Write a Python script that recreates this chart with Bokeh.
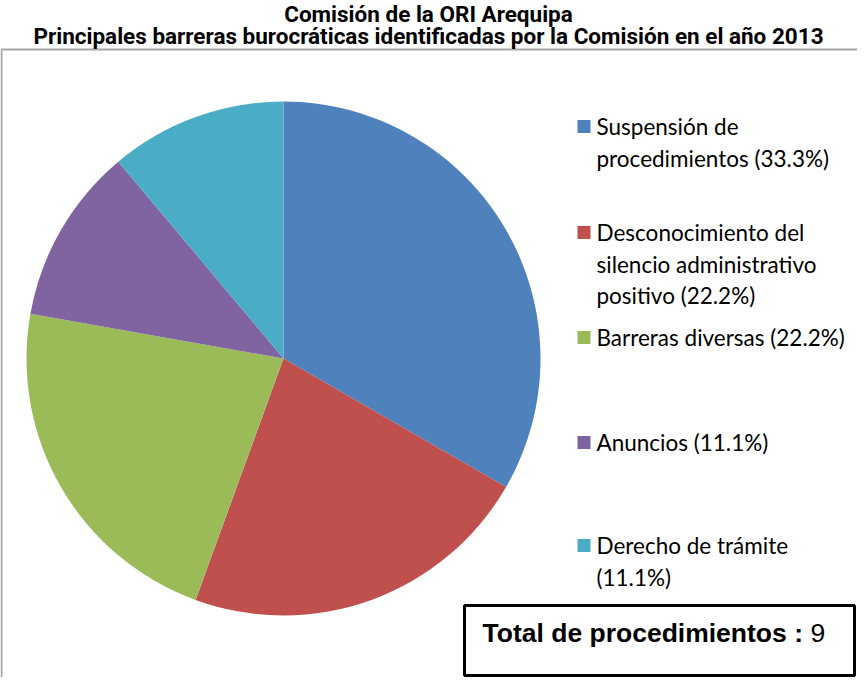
import math
from bokeh.plotting import figure
from bokeh.models import Range1d
from bokeh.core.properties import value
from bokeh.embed import file_html
from bokeh.resources import INLINE

# ---- data ----
categories = ["Suspensión de procedimientos", "Desconocimiento del silencio administrativo positivo",
              "Barreras diversas", "Anuncios", "Derecho de trámite"]
percents = [33.3, 22.2, 22.2, 11.1, 11.1]
legend_lines = [["Suspensión de", "procedimientos (33.3%)"],
                ["Desconocimiento del", "silencio administrativo", "positivo (22.2%)"],
                ["Barreras diversas (22.2%)"],
                ["Anuncios (11.1%)"],
                ["Derecho de trámite", "(11.1%)"]]
colors = ["#4F81BD", "#C0504D", "#9BBB59", "#8064A2", "#4BACC6"]
title_lines = ["Comisión de la ORI Arequipa",
               "Principales barreras burocráticas identificadas por la Comisión en el año 2013"]
total_label = "Total de procedimientos :"
total_value = 9

W, H = 857, 677
def X(sx): return sx - 8
def Y(sy): return 685 - sy

p = figure(width=W, height=H, x_range=Range1d(0, W), y_range=Range1d(0, H),
           output_backend="svg", toolbar_location=None, min_border=0,
           outline_line_color=None, background_fill_color="white")
p.axis.visible = False
p.xgrid.visible = False
p.ygrid.visible = False

# chart-area border (gray)
p.segment(x0=[X(9), X(9)], y0=[Y(57), Y(57)], x1=[X(9), X(870)], y1=[Y(690), Y(57)],
          line_color="#A6A6A6", line_width=2)

# pie
total = sum(percents)
cx, cy, r = X(291), Y(366), 257
start = math.pi / 2
starts, ends = [], []
for v in percents:
    a = 2 * math.pi * v / total
    ends.append(start)
    starts.append(start - a)
    start -= a
p.wedge(x=cx, y=cy, radius=r, start_angle=starts, end_angle=ends,
        fill_color=colors, line_color=None)

# legend
entry_y = [134, 240, 345, 450, 553]
line_step = 31.5
for lines, col, ey in zip(legend_lines, colors, entry_y):
    p.rect(x=X(591.5), y=Y(ey), width=13, height=13, fill_color=col, line_color=None)
    ys = [Y(ey + i * line_step) for i in range(len(lines))]
    p.text(x=[X(604)] * len(lines), y=ys, text=lines, text_font=value("Lato"),
           text_font_size="22.5px", text_baseline="middle", text_align="left",
           text_color="#000000")

# title
p.text(x=[X(436)] * 2, y=[Y(21), Y(43)], text=title_lines,
       text_font=value("Roboto"), text_font_style="bold",
       text_font_size="22.5px", text_align="center", text_baseline="middle",
       text_color="#000000")

# total box
p.rect(x=X(667), y=Y(648), width=390, height=70, fill_color="white",
       line_color="black", line_width=3)
p.text(x=[X(490)], y=[Y(640)], text=[total_label], text_font=value("Liberation Sans"),
       text_font_style="bold", text_font_size="26.5px", text_baseline="middle",
       text_align="left", text_color="black")
p.text(x=[X(818)], y=[Y(640)], text=[str(total_value)], text_font=value("Liberation Sans"),
       text_font_size="26.5px", text_baseline="middle", text_align="left", text_color="black")

open("out.html", "w").write(file_html(p, INLINE))
